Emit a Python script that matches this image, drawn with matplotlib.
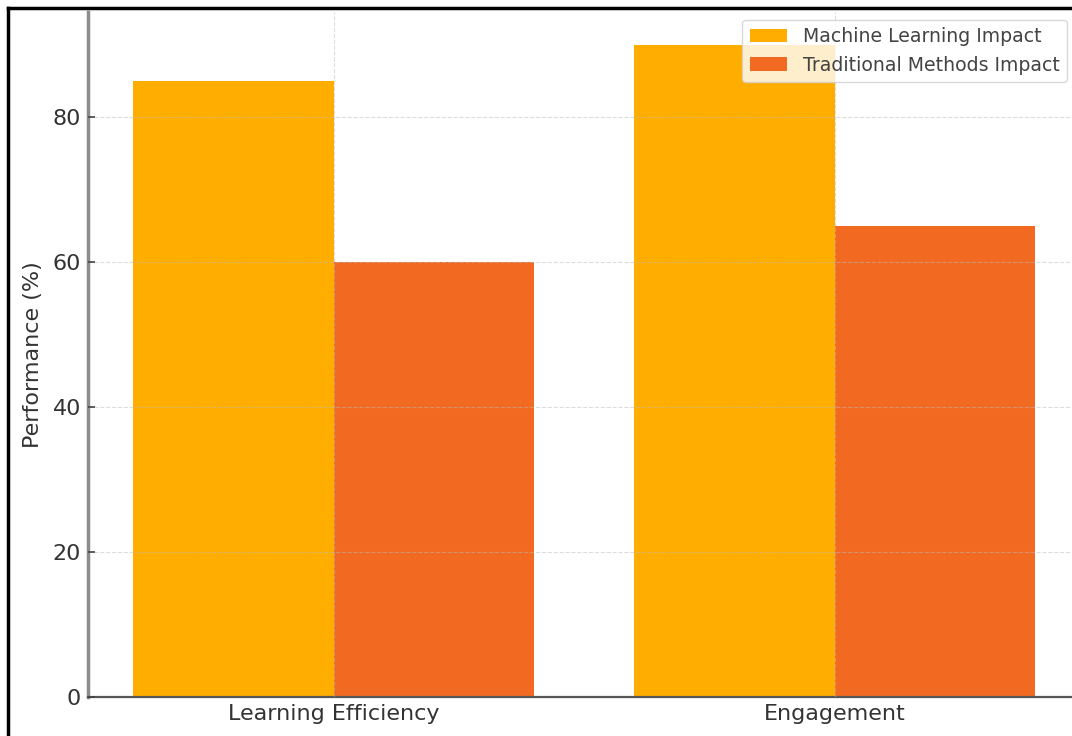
"""Grouped bar chart: machine learning vs traditional methods impact."""

from matplotlib import pyplot
from matplotlib.lines import Line2D
import numpy as np


categories = ['Learning Efficiency', 'Engagement']
ml_impact = [85, 90]
traditional_impact = [60, 65]

ml_color = '#FFAE00'
trad_color = '#F26A22'

pyplot.rc('font', family='DejaVu Sans')
fig = pyplot.figure(figsize=(10.72, 7.36), dpi=100)
ax = fig.add_axes([0.0821, 0.053, 0.9258, 0.9307])

x = np.arange(len(categories))
width = 0.4
ax.bar(x - width / 2, ml_impact, width, color=ml_color,
       label='Machine Learning Impact')
ax.bar(x + width / 2, traditional_impact, width, color=trad_color,
       label='Traditional Methods Impact')

ax.set_xticks(x)
ax.set_xticklabels(categories)
ax.set_yticks([0, 20, 40, 60, 80])
ax.set_ylabel('Performance (%)', fontsize=16, color='#333333', labelpad=7)
ax.tick_params(axis='x', length=0, labelsize=16, labelcolor='#333333',
               pad=5)
ax.tick_params(axis='y', direction='in', length=5, width=1.2,
               color='#444444', labelsize=16, labelcolor='#333333', pad=5)

# Dashed grid drawn over the bars, faint.
ax.set_axisbelow(False)
ax.grid(True, linestyle='--', linewidth=0.8, color='#bbbbbb', alpha=0.5)

for side in ('top', 'right'):
    ax.spines[side].set_visible(False)
ax.spines['left'].set_color('#8c8c8c')
ax.spines['left'].set_linewidth(2.5)
ax.spines['bottom'].set_color('#555555')
ax.spines['bottom'].set_linewidth(1.6)

ax.legend(loc='upper right', bbox_to_anchor=(0.994, 1.0), fontsize=13.6,
          framealpha=0.8, edgecolor='#d0d0d0', labelcolor='#444444',
          handlelength=2.0, borderaxespad=0.4)

# Thin black frame along the top and left edges.
fig.add_artist(Line2D([8 / 1072, 8 / 1072], [0, 1 - 8 / 736],
                      transform=fig.transFigure, color='black', lw=2.5))
fig.add_artist(Line2D([8 / 1072, 1], [1 - 8 / 736, 1 - 8 / 736],
                      transform=fig.transFigure, color='black', lw=2.5))

fig.savefig('out.png', dpi=100)
